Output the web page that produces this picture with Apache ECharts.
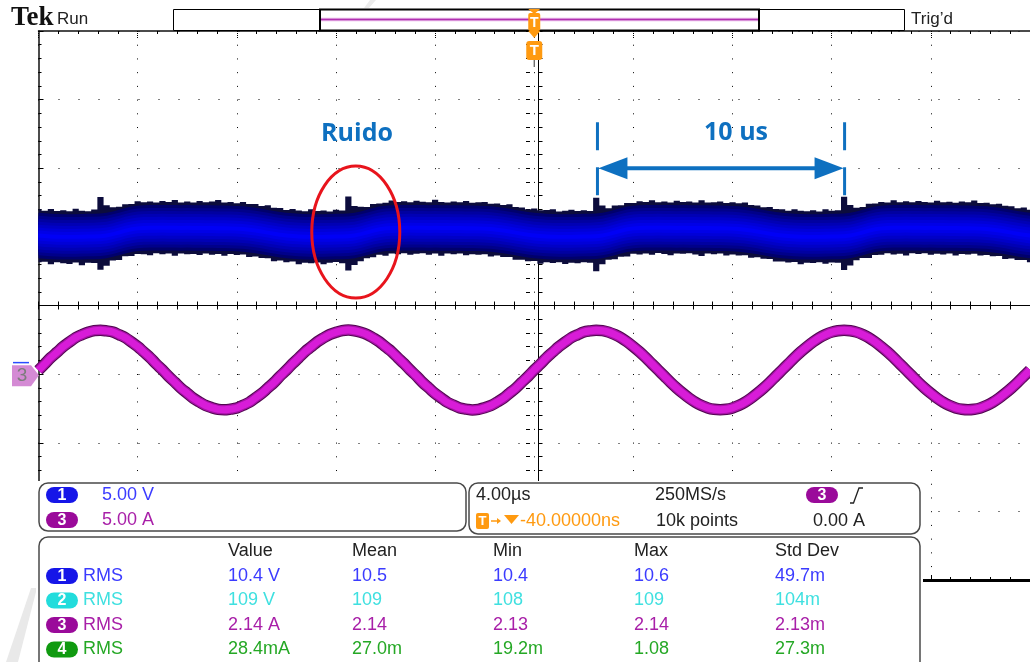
<!DOCTYPE html>
<html>
<head>
<meta charset="utf-8">
<script src="https://cdn.jsdelivr.net/npm/echarts@6.0.0/dist/echarts.min.js"></script>
<style>
html,body{margin:0;padding:0;background:#fff;}
#chart{width:1030px;height:662px;}
</style>
</head>
<body>
<div id="chart"></div>
<script>
// ================= DATA =================
// sample instants, µs relative to trigger (4.00 µs/div, 10 div)
const timeUs = [
-20,-19.75,-19.5,-19.25,-19,-18.75,-18.5,-18.25,
-18,-17.75,-17.5,-17.25,-17,-16.75,-16.5,-16.25,
-16,-15.75,-15.5,-15.25,-15,-14.75,-14.5,-14.25,
-14,-13.75,-13.5,-13.25,-13,-12.75,-12.5,-12.25,
-12,-11.75,-11.5,-11.25,-11,-10.75,-10.5,-10.25,
-10,-9.75,-9.5,-9.25,-9,-8.75,-8.5,-8.25,
-8,-7.75,-7.5,-7.25,-7,-6.75,-6.5,-6.25,
-6,-5.75,-5.5,-5.25,-5,-4.75,-4.5,-4.25,
-4,-3.75,-3.5,-3.25,-3,-2.75,-2.5,-2.25,
-2,-1.75,-1.5,-1.25,-1,-0.75,-0.5,-0.25,
0,0.25,0.5,0.75,1,1.25,1.5,1.75,
2,2.25,2.5,2.75,3,3.25,3.5,3.75,
4,4.25,4.5,4.75,5,5.25,5.5,5.75,
6,6.25,6.5,6.75,7,7.25,7.5,7.75,
8,8.25,8.5,8.75,9,9.25,9.5,9.75,
10,10.25,10.5,10.75,11,11.25,11.5,11.75,
12,12.25,12.5,12.75,13,13.25,13.5,13.75,
14,14.25,14.5,14.75,15,15.25,15.5,15.75,
16,16.25,16.5,16.75,17,17.25,17.5,17.75,
18,18.25,18.5,18.75,19,19.25,19.5,19.75,
20];

// Channel 1 (V, relative to its ground marker): upper / lower envelope of the noise band
const ch1UpperV = [
2.02,1.91,2.03,1.89,1.94,1.86,2.05,1.91,1.86,1.99,
2.90,2.30,2.15,2.20,2.37,2.40,2.60,2.52,2.58,2.50,2.62,2.55,2.68,2.51,2.57,2.50,2.61,2.53,2.57,2.69,
2.50,2.54,2.45,2.54,2.40,2.39,2.25,2.31,2.12,2.10,1.95,2.04,1.93,1.87,2.02,1.88,1.92,1.85,1.98,1.92,
2.95,2.25,2.20,2.17,2.40,2.44,2.48,2.65,2.54,2.59,2.52,2.63,2.56,2.52,2.70,2.54,2.50,2.58,2.52,2.62,
2.49,2.53,2.55,2.42,2.44,2.33,2.37,2.17,2.14,2.01,2.06,1.94,1.95,2.02,1.85,1.90,1.97,1.88,1.94,1.89,
2.85,2.28,2.08,2.28,2.31,2.47,2.47,2.60,2.55,2.66,2.53,2.57,2.51,2.63,2.54,2.58,2.51,2.66,2.51,2.53,
2.58,2.47,2.52,2.45,2.51,2.32,2.29,2.16,2.17,2.03,2.02,1.91,2.01,1.90,1.86,1.94,1.85,2.01,1.90,1.94,
2.92,2.32,2.12,2.17,2.42,2.43,2.55,2.50,2.67,2.53,2.59,2.52,2.62,2.54,2.51,2.64,2.52,2.56,2.49,2.57,
2.52,2.65,2.46,2.48,2.37,2.41,2.27,2.23,2.09,2.14,1.97];
const ch1LowerV = [
-1.85,-1.82,-1.99,-1.84,-1.92,-1.98,-1.87,-2.07,-1.88,-1.90,
-2.40,-2.10,-1.72,-1.68,-1.42,-1.40,-1.24,-1.26,-1.33,-1.19,-1.26,-1.22,-1.38,-1.21,-1.26,-1.24,-1.32,-1.21,-1.30,-1.25,
-1.38,-1.25,-1.32,-1.28,-1.46,-1.43,-1.54,-1.55,-1.77,-1.72,-1.84,-1.79,-2.00,-1.88,-1.92,-1.86,-1.99,-1.89,-1.83,-1.92,
-2.45,-2.05,-1.78,-1.56,-1.49,-1.30,-1.38,-1.22,-1.26,-1.20,-1.31,-1.23,-1.19,-1.30,-1.22,-1.37,-1.21,-1.27,-1.21,-1.33,
-1.26,-1.31,-1.26,-1.43,-1.36,-1.46,-1.46,-1.66,-1.66,-1.77,-1.76,-1.95,-1.85,-1.91,-1.85,-1.98,-1.89,-1.93,-1.84,-1.88,
-2.50,-2.00,-1.66,-1.63,-1.44,-1.43,-1.23,-1.28,-1.21,-1.30,-1.18,-1.25,-1.34,-1.22,-1.23,-1.20,-1.29,-1.39,-1.22,-1.27,
-1.22,-1.35,-1.28,-1.35,-1.33,-1.53,-1.48,-1.60,-1.62,-1.80,-1.79,-1.87,-1.83,-1.99,-1.88,-1.91,-1.85,-1.96,-1.86,-1.89,
-2.42,-2.08,-1.70,-1.54,-1.54,-1.32,-1.30,-1.20,-1.29,-1.23,-1.35,-1.20,-1.25,-1.20,-1.31,-1.23,-1.28,-1.22,-1.35,-1.24,
-1.29,-1.23,-1.36,-1.32,-1.41,-1.40,-1.62,-1.57,-1.69,-1.69,-1.85];
// Channel 1 band centre (bright core of the persistence trace), V
const ch1CenterV = [
0.10,0.06,0.03,0.01,0,0,0,0.01,0.02,0.03,
0.05,0.10,0.20,0.32,0.45,0.55,0.62,0.65,0.66,0.66,0.67,0.66,0.66,0.65,0.66,0.65,0.65,0.64,0.64,0.63,
0.63,0.62,0.60,0.57,0.52,0.46,0.39,0.31,0.23,0.16,0.10,0.06,0.03,0.01,0,0,0,0.01,0.02,0.03,
0.05,0.10,0.20,0.32,0.45,0.55,0.62,0.65,0.66,0.66,0.67,0.66,0.66,0.65,0.66,0.65,0.65,0.64,0.64,0.63,
0.63,0.62,0.60,0.57,0.52,0.46,0.39,0.31,0.23,0.16,0.10,0.06,0.03,0.01,0,0,0,0.01,0.02,0.03,
0.05,0.10,0.20,0.32,0.45,0.55,0.62,0.65,0.66,0.66,0.67,0.66,0.66,0.65,0.66,0.65,0.65,0.64,0.64,0.63,
0.63,0.62,0.60,0.57,0.52,0.46,0.39,0.31,0.23,0.16,0.10,0.06,0.03,0.01,0,0,0,0.01,0.02,0.03,
0.05,0.10,0.20,0.32,0.45,0.55,0.62,0.65,0.66,0.66,0.67,0.66,0.66,0.65,0.66,0.65,0.65,0.64,0.64,0.63,
0.63,0.62,0.60,0.57,0.52,0.46,0.39,0.31,0.23,0.16,0.10];
// Channel 3 current (A, relative to its ground marker)
const ch3CurrentA = [
0.28,0.74,1.21,1.60,2.01,2.34,2.66,2.87,3.05,3.17,
3.20,3.15,3.07,2.87,2.66,2.34,2.01,1.61,1.21,0.74,0.31,-0.16,-0.59,-1.03,-1.39,-1.76,-2.04,-2.29,-2.45,-2.57,
-2.60,-2.55,-2.47,-2.27,-2.06,-1.74,-1.41,-1.01,-0.61,-0.14,0.29,0.76,1.19,1.63,1.99,2.36,2.64,2.89,3.05,3.17,
3.21,3.16,3.05,2.89,2.64,2.36,1.99,1.63,1.19,0.76,0.29,-0.14,-0.61,-1.01,-1.41,-1.74,-2.06,-2.27,-2.47,-2.55,
-2.61,-2.57,-2.45,-2.29,-2.04,-1.76,-1.39,-1.03,-0.59,-0.16,0.31,0.74,1.21,1.61,2.01,2.34,2.66,2.87,3.07,3.15,
3.19,3.17,3.06,2.88,2.65,2.35,2.00,1.62,1.20,0.75,0.30,-0.15,-0.60,-1.02,-1.40,-1.75,-2.05,-2.28,-2.46,-2.56,
-2.59,-2.56,-2.46,-2.28,-2.05,-1.75,-1.40,-1.02,-0.60,-0.15,0.30,0.75,1.20,1.62,2.00,2.35,2.65,2.88,3.06,3.16,
3.20,3.16,3.06,2.88,2.65,2.35,2.00,1.62,1.20,0.75,0.30,-0.15,-0.60,-1.02,-1.40,-1.75,-2.05,-2.28,-2.46,-2.56,
-2.60,-2.56,-2.46,-2.28,-2.05,-1.75,-1.40,-1.02,-0.60,-0.15,0.30];

// noise bursts on channel 1 (µs)
const noiseBurstsUs = [-17.5, -7.5, 2.5, 12.5];

// scope settings
const timeMinUs = -20, timeMaxUs = 20, timePerDivUs = 4;
const divMin = -4, divMax = 4;
const ch1VoltsPerDiv = 5, ch1PositionDiv = 1;
const ch3AmpsPerDiv = 5, ch3PositionDiv = -1;

// readout texts
const chScaleLabels = ['5.00 V', '5.00 A'];
const timebaseLabels = ['4.00µs', '250MS/s', '10k points'];
const triggerLabels = ['-40.00000ns', '0.00 A'];
const measHeaders = ['Value', 'Mean', 'Min', 'Max', 'Std Dev'];
const measChannels = ['1', '2', '3', '4'];
const measType = ['RMS', 'RMS', 'RMS', 'RMS'];
const measValue = ['10.4 V', '109 V', '2.14 A', '28.4mA'];
const measMean = ['10.5', '109', '2.14', '27.0m'];
const measMin = ['10.4', '108', '2.13', '19.2m'];
const measMax = ['10.6', '109', '2.14', '1.08'];
const measStdDev = ['49.7m', '104m', '2.13m', '27.3m'];
const annotationNoise = 'Ruido';
const annotationPeriod = '10 us';

// ================= STYLE =================
const FONT = "'Liberation Sans', Arial, sans-serif";
const chColors = { '1': '#3b3bff', '2': '#3fe0e0', '3': '#a81fa8', '4': '#25a825' };
const chBadge = { '1': '#1616e8', '2': '#22dcdc', '3': '#9a0a9a', '4': '#109a10' };
const ORANGE = '#ff9a10';
const ANN_BLUE = '#0e70c0';

const ch1Div = v => ch1PositionDiv + v / ch1VoltsPerDiv;
const ch3Div = a => ch3PositionDiv + a / ch3AmpsPerDiv;
const CORE_HALF_V = 1.8;
const HALF_STEP = 0.125;

function renderCh1(params, api) {
  const n = timeUs.length;
  const cl = t => Math.max(timeMinUs, Math.min(timeMaxUs, t));
  const outer = [];
  for (let i = 0; i < n; i++) {
    outer.push(api.coord([cl(timeUs[i] - HALF_STEP), ch1Div(ch1UpperV[i])]));
    outer.push(api.coord([cl(timeUs[i] + HALF_STEP), ch1Div(ch1UpperV[i])]));
  }
  for (let i = n - 1; i >= 0; i--) {
    outer.push(api.coord([cl(timeUs[i] + HALF_STEP), ch1Div(ch1LowerV[i])]));
    outer.push(api.coord([cl(timeUs[i] - HALF_STEP), ch1Div(ch1LowerV[i])]));
  }
  const children = [{ type: 'polygon', shape: { points: outer }, style: { fill: '#0c0c3c' } }];
  [0.92, 0.8, 0.68, 0.56, 0.44, 0.32, 0.2, 0.08].forEach(f => {
    const pts = [];
    for (let i = 0; i < n; i++) pts.push(api.coord([timeUs[i], ch1Div(ch1CenterV[i] + f * CORE_HALF_V)]));
    for (let i = n - 1; i >= 0; i--) pts.push(api.coord([timeUs[i], ch1Div(ch1CenterV[i] - f * CORE_HALF_V)]));
    const b = Math.round(66 + 189 * Math.pow(1 - f, 0.6));
    children.push({ type: 'polygon', shape: { points: pts }, style: { fill: 'rgb(0,0,' + b + ')' } });
  });
  return { type: 'group', children };
}

const ch3Data = timeUs.map((t, i) => [t, ch3Div(ch3CurrentA[i])]);

const tickBase = { show: true, lineStyle: { color: '#000', width: 1 } };
const xBase = { type: 'value', min: timeMinUs, max: timeMaxUs, interval: timePerDivUs, axisLabel: { show: false }, splitLine: { show: false } };
const yBase = { type: 'value', min: divMin, max: divMax, interval: 1, axisLabel: { show: false }, splitLine: { show: false } };

const option = {
  animation: false,
  backgroundColor: '#fff',
  grid: { left: 38.5, top: 31, width: 1000, height: 549, containLabel: false },
  xAxis: [
    Object.assign({}, xBase, { position: 'bottom',
      axisLine: { show: true, onZero: false, lineStyle: { color: '#000', width: 3 } },
      axisTick: Object.assign({}, tickBase, { inside: true, length: 5 }),
      minorTick: Object.assign({}, tickBase, { splitNumber: 5, length: 3 }),
      splitLine: { show: true, lineStyle: { color: '#000', width: 1, type: [1, 12.72] } } }),
    Object.assign({}, xBase, { position: 'top',
      axisLine: { show: true, onZero: false, lineStyle: { color: '#111', width: 1.5 } },
      axisTick: Object.assign({}, tickBase, { inside: true, length: 7, lineStyle: { color: '#000', width: 1, type: [1, 1] } }),
      minorTick: Object.assign({}, tickBase, { splitNumber: 5, length: 3 }) }),
    Object.assign({}, xBase, { position: 'bottom', offset: -274.5,
      axisLine: { show: true, onZero: false, lineStyle: { color: '#000', width: 1 } },
      axisTick: Object.assign({}, tickBase, { inside: true, length: 4 }),
      minorTick: Object.assign({}, tickBase, { splitNumber: 5, length: 4 }) }),
    Object.assign({}, xBase, { position: 'top', offset: -274.5,
      axisLine: { show: false, onZero: false },
      axisTick: Object.assign({}, tickBase, { inside: true, length: 4 }),
      minorTick: Object.assign({}, tickBase, { splitNumber: 5, length: 4 }) })
  ],
  yAxis: [
    Object.assign({}, yBase, { position: 'left',
      axisLine: { show: true, onZero: false, lineStyle: { color: '#111', width: 1.5 } },
      axisTick: Object.assign({}, tickBase, { inside: true, length: 5 }),
      minorTick: Object.assign({}, tickBase, { splitNumber: 5, length: 3 }),
      splitLine: { show: true, lineStyle: { color: '#000', width: 1, type: [1, 19] } } }),
    Object.assign({}, yBase, { position: 'left', offset: -500,
      axisLine: { show: true, onZero: false, lineStyle: { color: '#000', width: 1 } },
      axisTick: Object.assign({}, tickBase, { inside: true, length: 4 }),
      minorTick: Object.assign({}, tickBase, { splitNumber: 5, length: 4 }) }),
    Object.assign({}, yBase, { position: 'right', offset: -500,
      axisLine: { show: false, onZero: false },
      axisTick: Object.assign({}, tickBase, { inside: true, length: 4 }),
      minorTick: Object.assign({}, tickBase, { splitNumber: 5, length: 4 }) })
  ],
  series: [
    { type: 'custom', name: 'CH1', coordinateSystem: 'cartesian2d', xAxisIndex: 0, yAxisIndex: 0,
      renderItem: renderCh1, data: [[0, 0]], z: 3, silent: true },
    { type: 'line', name: 'CH3 edge', data: ch3Data, smooth: 0.35, symbol: 'none', z: 4,
      lineStyle: { color: '#50064f', width: 11.5 } },
    { type: 'line', name: 'CH3 mid', data: ch3Data, smooth: 0.35, symbol: 'none', z: 5,
      lineStyle: { color: '#a812a8', width: 9.5 } },
    { type: 'line', name: 'CH3', data: ch3Data, smooth: 0.35, symbol: 'none', z: 6,
      lineStyle: { color: '#d81cd8', width: 7 } }
  ]
};

const chart = echarts.init(document.getElementById('chart'), null, { renderer: 'canvas' });
chart.setOption(option);

const px = (t, d) => chart.convertToPixel({ xAxisIndex: 0, yAxisIndex: 0 }, [t, d]);

function txt(x, y, s, color, size, ex) {
  const o = { type: 'text', x: x, y: y, z: 120,
    style: { text: s, fill: color, font: (size || 18) + 'px ' + FONT,
      align: 'left', verticalAlign: 'middle', textAlign: 'left', textVerticalAlign: 'middle' } };
  if (ex) Object.assign(o.style, ex);
  return o;
}
function badge(x, yc, label) {
  return [
    { type: 'rect', z: 115, shape: { x: x, y: yc - 8, width: 32, height: 16, r: 8 }, style: { fill: chBadge[label] } },
    txt(x + 16, yc + 0.5, label, '#fff', 17, { align: 'center', textAlign: 'center', font: 'bold 16px ' + FONT })
  ];
}

const g = [];
// title row
g.push(txt(11, 18, 'Tek', '#111', 27, { font: 'bold 27px "Liberation Serif", "DejaVu Serif", serif' }));
g.push(txt(57, 19, 'Run', '#222', 17));
g.push(txt(911, 19, 'Trig\u2019d', '#222', 17));
// record bar
g.push({ type: 'rect', z: 110, shape: { x: 173.5, y: 9.5, width: 731, height: 21 }, style: { fill: '#fff', stroke: '#000', lineWidth: 1 } });
g.push({ type: 'rect', z: 111, shape: { x: 320, y: 9.5, width: 439, height: 21 }, style: { fill: 'none', stroke: '#000', lineWidth: 2 } });
g.push({ type: 'line', z: 112, shape: { x1: 321, y1: 19.5, x2: 758, y2: 19.5 }, style: { stroke: '#e6b0e6', lineWidth: 3.5 } });
g.push({ type: 'line', z: 113, shape: { x1: 321, y1: 19.5, x2: 758, y2: 19.5 }, style: { stroke: '#b030b0', lineWidth: 1.5 } });
// trigger position markers
const trigX = px(0, 0)[0];
g.push({ type: 'polygon', z: 114, shape: { points: [[trigX - 6, 9], [trigX + 6, 9], [trigX, 14]] }, style: { fill: ORANGE } });
g.push({ type: 'rect', z: 114, shape: { x: trigX - 6, y: 13, width: 12, height: 18, r: 2 }, style: { fill: ORANGE } });
g.push(txt(trigX, 23, 'T', '#fff', 14, { align: 'center', textAlign: 'center', font: 'bold 14px ' + FONT }));
g.push({ type: 'polygon', z: 114, shape: { points: [[trigX - 6, 31], [trigX + 6, 31], [trigX, 38]] }, style: { fill: ORANGE } });
g.push({ type: 'rect', z: 114, shape: { x: trigX - 8, y: 41, width: 16, height: 19, r: 3 }, style: { fill: ORANGE } });
g.push(txt(trigX, 51, 'T', '#fff', 15, { align: 'center', textAlign: 'center', font: 'bold 15px ' + FONT }));
g.push({ type: 'line', z: 114, shape: { x1: trigX, y1: 60, x2: trigX, y2: 67 }, style: { stroke: '#555', lineWidth: 1.2 } });
// channel 3 ground marker
const c3y = px(0, ch3PositionDiv)[1] + 1;
g.push({ type: 'polygon', z: 114, shape: { points: [[12, c3y - 10], [31, c3y - 10], [39, c3y], [31, c3y + 11], [12, c3y + 11]] }, style: { fill: '#d48ad4' } });
g.push(txt(22, c3y + 1, '3', '#7c7c7c', 19, { align: 'center', textAlign: 'center' }));
g.push({ type: 'line', z: 114, shape: { x1: 13, y1: c3y - 12.5, x2: 29, y2: c3y - 12.5 }, style: { stroke: '#2a4cff', lineWidth: 1.5 } });

// annotations anchored on the data
const burstA = noiseBurstsUs[1], burstB = noiseBurstsUs[2], burstC = noiseBurstsUs[3];
const ell = px(burstA + 0.3, ch1PositionDiv + 0.07);
g.push({ type: 'ellipse', z: 116, shape: { cx: ell[0], cy: ell[1], rx: 44, ry: 66 }, style: { fill: 'none', stroke: '#e8141c', lineWidth: 3 } });
const rl = px(burstA + 0.35, 2.5);
g.push(txt(rl[0], rl[1], annotationNoise, ANN_BLUE, 25, { align: 'center', textAlign: 'center', font: 'bold 25px "Open Sans", Lato, sans-serif' }));
const a1 = px(burstB + 0.05, 2.0), a2 = px(burstC + 0.02, 2.0);
g.push({ type: 'line', z: 116, shape: { x1: a1[0] + 20, y1: a1[1], x2: a2[0] - 20, y2: a2[1] }, style: { stroke: ANN_BLUE, lineWidth: 4 } });
g.push({ type: 'polygon', z: 116, shape: { points: [[a1[0] + 1, a1[1]], [a1[0] + 30, a1[1] - 11], [a1[0] + 30, a1[1] + 11]] }, style: { fill: ANN_BLUE } });
g.push({ type: 'polygon', z: 116, shape: { points: [[a2[0] - 1, a2[1]], [a2[0] - 30, a2[1] - 11], [a2[0] - 30, a2[1] + 11]] }, style: { fill: ANN_BLUE } });
[a1[0], a2[0]].forEach(x => {
  g.push({ type: 'line', z: 116, shape: { x1: x, y1: a1[1] - 46, x2: x, y2: a1[1] - 18 }, style: { stroke: ANN_BLUE, lineWidth: 3 } });
  g.push({ type: 'line', z: 116, shape: { x1: x, y1: a1[1] - 1, x2: x, y2: a1[1] + 27 }, style: { stroke: ANN_BLUE, lineWidth: 3 } });
});
g.push(txt((a1[0] + a2[0]) / 2 + 15, a1[1] - 35, annotationPeriod, ANN_BLUE, 25, { align: 'center', textAlign: 'center', font: 'bold 25px "Open Sans", Lato, sans-serif' }));

// readout panel background + boxes
g.push({ type: 'rect', z: 100, shape: { x: 36, y: 481, width: 887, height: 190 }, style: { fill: '#fff' } });
const boxStyle = { fill: '#fff', stroke: '#4a4a4a', lineWidth: 1.5 };
g.push({ type: 'rect', z: 101, shape: { x: 39, y: 483, width: 427, height: 48, r: 9 }, style: boxStyle });
g.push({ type: 'rect', z: 101, shape: { x: 469, y: 483, width: 451, height: 51, r: 9 }, style: boxStyle });
g.push({ type: 'rect', z: 101, shape: { x: 39, y: 537, width: 881, height: 150, r: 9 }, style: boxStyle });

// box 1: vertical scales
badge(46, 495, '1').forEach(e => g.push(e));
g.push(txt(102, 495, chScaleLabels[0], chColors['1'], 18));
badge(46, 520, '3').forEach(e => g.push(e));
g.push(txt(102, 520, chScaleLabels[1], chColors['3'], 18));

// box 2: timebase & trigger
g.push(txt(476, 495, timebaseLabels[0], '#222', 18));
g.push(txt(655, 495, timebaseLabels[1], '#222', 18));
g.push(txt(656, 521, timebaseLabels[2], '#222', 18));
badge(806, 495, '3').forEach(e => g.push(e));
g.push({ type: 'polyline', z: 120, shape: { points: [[850, 503], [853.5, 503], [859, 488], [863, 488]] }, style: { stroke: '#222', lineWidth: 1.3, fill: 'none' } });
g.push({ type: 'rect', z: 115, shape: { x: 476, y: 513, width: 13, height: 16, r: 2 }, style: { fill: ORANGE } });
g.push(txt(482.5, 521.5, 'T', '#fff', 13, { align: 'center', textAlign: 'center', font: 'bold 13px ' + FONT }));
g.push({ type: 'line', z: 115, shape: { x1: 491, y1: 521, x2: 500, y2: 521 }, style: { stroke: ORANGE, lineWidth: 1.5 } });
g.push({ type: 'polygon', z: 115, shape: { points: [[497, 518], [501, 521], [497, 524]] }, style: { fill: ORANGE } });
g.push({ type: 'polygon', z: 115, shape: { points: [[504, 515], [519, 515], [511.5, 524]] }, style: { fill: ORANGE } });
g.push(txt(520, 521, triggerLabels[0], ORANGE, 18));
g.push(txt(813, 521, triggerLabels[1], '#222', 18));

// box 3: measurement table
const colX = [228, 352, 493, 634, 775];
const rowY = [576, 600.5, 625, 649.5];
measHeaders.forEach((h, j) => g.push(txt(colX[j], 551, h, '#222', 18)));
const cols = [measValue, measMean, measMin, measMax, measStdDev];
measChannels.forEach((ch, r) => {
  badge(46, rowY[r], ch).forEach(e => g.push(e));
  g.push(txt(83, rowY[r], measType[r], chColors[ch], 18));
  cols.forEach((col, j) => g.push(txt(colX[j], rowY[r], col[r], chColors[ch], 18)));
});

// faint watermark strokes of the source image
g.push({ type: 'polygon', z: 99, shape: { points: [[31, 588], [37, 588], [18, 662], [6, 662]] }, style: { fill: '#e9e9e9' } });
g.push({ type: 'polygon', z: 99, shape: { points: [[370, 0], [376, 0], [369, 8], [364, 8]] }, style: { fill: '#ececec' } });

chart.setOption({ graphic: { elements: g } });
</script>
</body>
</html>
